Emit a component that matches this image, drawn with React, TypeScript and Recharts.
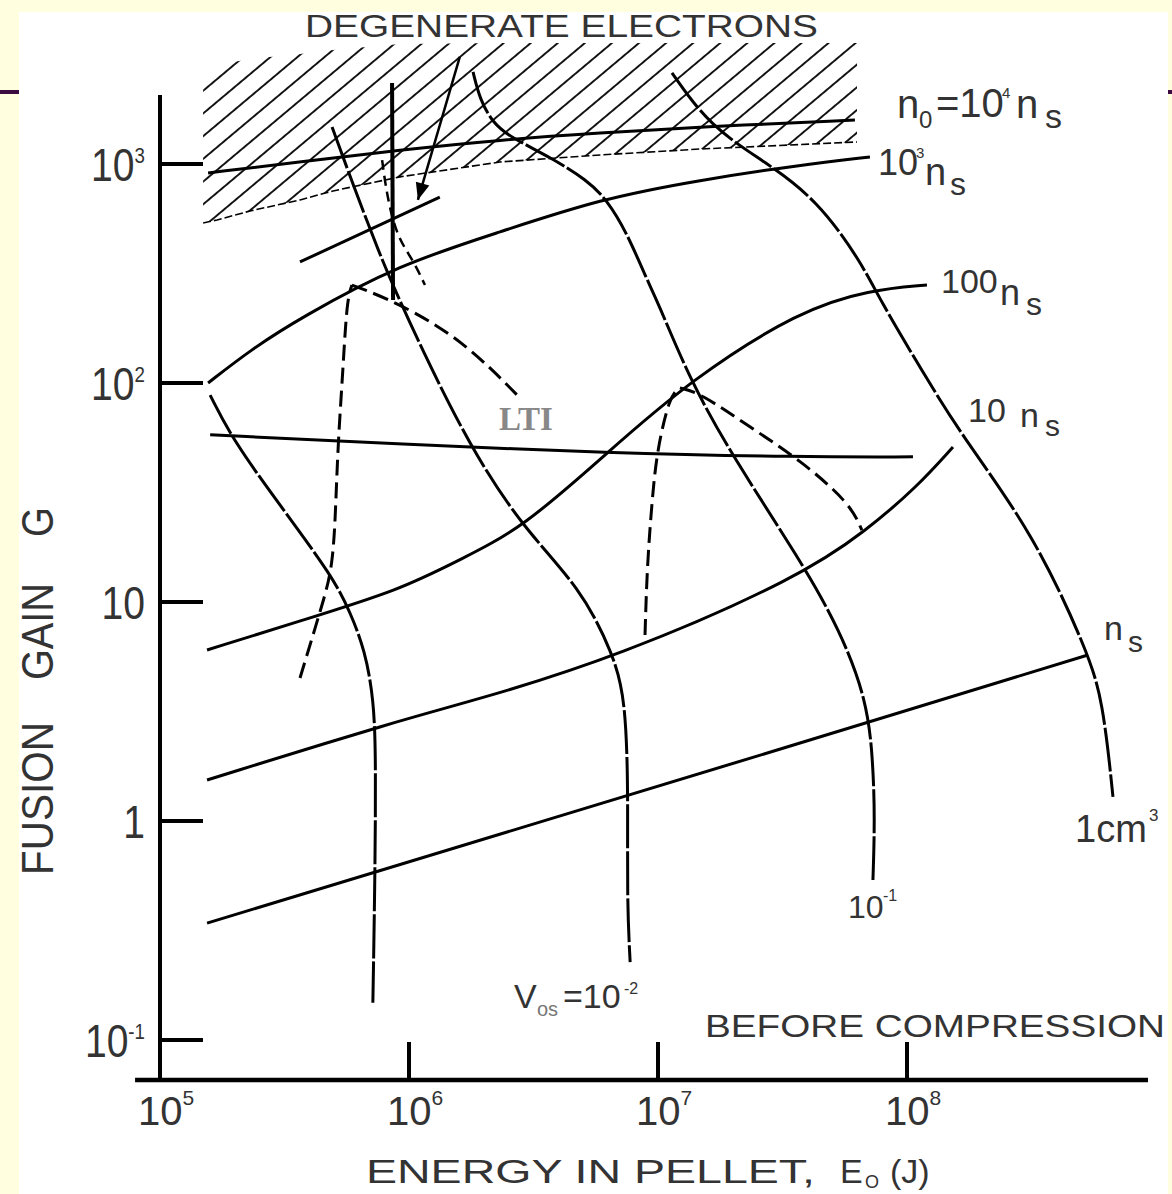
import React from 'react';
import { ComposedChart, Line, Area, XAxis, YAxis, ReferenceLine, ReferenceDot } from 'recharts';

// Energy in pellet E0 (J) vs fusion gain G
const xTicks = [1e5, 1e6, 1e7, 1e8];
const xTickExp = ['5', '6', '7', '8'];
const yTicks = [0.1, 1, 10, 100, 1000];
const yTickBase = ['10', '1', '10', '10', '10'];
const yTickExp = ['-1', '', '', '2', '3'];

const xDomain = [1e5, 9.29e8];
const yDomain = [0.0657, 3681];
const yAxisTop = 2065;
const xAxisStart = 7.94e4;

// density contours (n0 = 10^4 ns ... ns)
const dens1e4 = [[1.56e5, 910], [3.65e5, 1021], [9.2e5, 1159], [2.32e6, 1288], [5.85e6, 1386], [1.475e7, 1475], [6.18e7, 1588]];
const dens1e3 = [[1.56e5, 100], [2.3e5, 141], [3.65e5, 198], [9.2e5, 349], [2.32e6, 489], [5.85e6, 692], [1.475e7, 845], [3.72e7, 989], [7.1e7, 1076]];
const dens1e3Stub = [[3.65e5, 357], [1.33e6, 706]];
const dens100 = [[1.545e5, 6.04], [3.65e5, 8.19], [9.2e5, 11.35], [1.6e6, 15.6], [2.87e6, 21.8], [6.24e6, 47.9], [1.345e7, 103], [3.72e7, 215], [7.1e7, 266], [1.203e8, 280]];
const dens10 = [[1.545e5, 1.54], [9.2e5, 2.89], [1.875e6, 3.57], [6.84e6, 5.61], [3.72e7, 13.0], [6.9e7, 21.3], [1.096e8, 33.5], [1.53e8, 51]];
const dens1 = [[1.545e5, 0.342], [3.72e7, 2.27], [5.33e8, 5.73]];
const flatLine = [[1.59e5, 58], [9.2e5, 52.6], [6.24e6, 47.9], [3.72e7, 45.9], [1.057e8, 46]];

// volume contours (Vos)
const volSmall = [[1.59e5, 88], [1.96e5, 55], [3.03e5, 27.7], [4.95e5, 13.0], [5.8e5, 9.0], [6.65e5, 6.04], [7.23e5, 3.57], [7.36e5, 1.9], [7.3e5, 0.538], [7.16e5, 0.148]];
const vol1em2 = [[4.91e5, 1475], [6.07e5, 761], [7.65e5, 384], [8.79e5, 266], [1.107e6, 149], [1.758e6, 51], [2.87e6, 21.8], [4.86e6, 11.7], [6.59e6, 5.85], [7.43e6, 3.57], [7.59e6, 1.25], [7.51e6, 0.436], [7.73e6, 0.227]];
const vol1em1 = [[1.808e6, 2630], [1.928e6, 1960], [2.175e6, 1538], [2.545e6, 1328], [3.68e6, 1076], [5.19e6, 845], [6.24e6, 685], [7.51e6, 484], [9.04e6, 295], [9.91e6, 239], [1.345e7, 103], [2.0e7, 45.9], [3.72e7, 15.6], [5.38e7, 7.45], [6.9e7, 3.57], [7.3e7, 1.9], [7.43e7, 1.01], [7.3e7, 0.538]];
const vol1cm3 = [[1.138e7, 2605], [1.618e7, 1475], [2.74e7, 1011], [4.35e7, 685], [6.47e7, 365], [7.8e7, 239], [1.127e8, 118], [1.633e8, 59], [3.21e8, 20.7], [5.28e8, 6.04], [6.12e8, 3.57], [6.72e8, 1.29]];
const thickVertical = [[8.55e5, 2344], [8.63e5, 239]];

// LTI dashed curves
const lti1Left = [[3.65e5, 4.5], [4.48e5, 9.69], [4.95e5, 14.45], [5.09e5, 29.2], [5.19e5, 53.2], [5.43e5, 115], [5.63e5, 239], [5.9e5, 280]];
const lti1Right = [[5.9e5, 280], [8.95e5, 234], [1.648e6, 157], [2.79e6, 85.5]];
const lti2Left = [[8.87e6, 7.07], [9.04e6, 14.45], [9.47e6, 29.2], [9.91e6, 49.4], [1.117e7, 88], [1.225e7, 95]];
const lti2Right = [[1.225e7, 95], [1.475e7, 90], [2.34e7, 63], [3.72e7, 44.5], [5.9e7, 28.3], [6.59e7, 21.3]];
const lti3 = [[7.8e5, 1042], [8.17e5, 706], [8.95e5, 465], [1.037e6, 365], [1.159e6, 280]];

const arrowShaft = [[1.6e6, 3080], [1.086e6, 685]];

// degenerate-electron region
const hatchE = [1.49e5, 1.694e5, 2.3e5, 3.65e5, 4.95e5, 9.2e5, 2.32e6, 5.85e6, 1.475e7, 6.3e7];
const hatchTop = [2549, 2832, 3015, 3178, 3316, 3532, 3570, 3570, 3570, 3570];
const hatchBottom = [538, 555, 610, 685, 753, 873, 1021, 1099, 1170, 1260];

const sans = '"Liberation Sans", Arial, Helvetica, sans-serif';
const ink = '#333';

const toRows = (pts: number[][]) => pts.map(([x, y]) => ({ x, y }));
const hatchRows = hatchE.map((x, i) => ({ x, range: [hatchBottom[i], hatchTop[i]] }));
const hatchEdge = hatchE.map((x, i) => ({ x, y: hatchBottom[i] }));

const XTick = (props: any) => {
  const { x, y, index } = props;
  return (
    <g>
      {index > 0 && <line x1={x} y1={y} x2={x} y2={y - 38} stroke="#000" strokeWidth={4} />}
      <text x={x - 22} y={y + 45} fontSize={40} fill={ink} fontFamily={sans}>
        10<tspan fontSize={21} dy={-20}>{xTickExp[index]}</tspan>
      </text>
    </g>
  );
};

const YTick = (props: any) => {
  const { x, y, index } = props;
  return (
    <g>
      <line x1={x} y1={y} x2={x + 43} y2={y} stroke="#000" strokeWidth={4} />
      <text transform={`translate(${x - 15},${y + 17}) scale(0.85,1)`} textAnchor="end" fontSize={46} fill={ink} fontFamily={sans}>
        {yTickBase[index]}
        {yTickExp[index] && <tspan fontSize={22} dy={-18}>{yTickExp[index]}</tspan>}
      </text>
    </g>
  );
};

const ArrowHead = (props: any) => {
  const { cx, cy } = props;
  return <path d="M0,0 L-17,-7 L-17,7 Z" fill="#000" transform={`translate(${cx},${cy}) rotate(106)`} />;
};

const curve = (key: string, pts: number[][], opts: any = {}) => (
  <Line
    key={key}
    name={key}
    data={toRows(pts)}
    dataKey="y"
    type={opts.type || 'basis'}
    stroke="#000"
    strokeWidth={opts.w || 3}
    strokeDasharray={opts.dash}
    dot={false}
    activeDot={false}
    isAnimationActive={false}
  />
);

export default function App() {
  return (
    <div style={{ position: 'absolute', left: 0, top: 0, width: 1172, height: 1194, background: '#FFFFE0', overflow: 'hidden' }}>
      <div style={{ position: 'absolute', left: 0, top: 90, width: 1172, height: 4, background: '#3B0A40' }} />
      <div style={{ position: 'absolute', left: 19, top: 12, width: 1149, height: 1182, background: '#fff' }} />
      <div style={{ position: 'absolute', left: 0, top: 0 }}>
        <ComposedChart width={1172} height={1194} margin={{ top: 40, right: 24, bottom: 54, left: 100 }}>
          <defs>
            <pattern id="hatch" patternUnits="userSpaceOnUse" width="12" height="17.4" patternTransform="rotate(-40)">
              <line x1="0" y1="8.7" x2="12" y2="8.7" stroke="#000" strokeWidth="1.8" />
            </pattern>
          </defs>
          <XAxis
            dataKey="x"
            type="number"
            scale="log"
            domain={xDomain}
            allowDataOverflow
            ticks={xTicks}
            interval={0}
            tick={(p: any) => <XTick {...p} />}
            tickLine={false}
            axisLine={false}
            tickSize={0}
            tickMargin={0}
            height={60}
          />
          <YAxis
            type="number"
            scale="log"
            domain={yDomain}
            allowDataOverflow
            ticks={yTicks}
            interval={0}
            tick={(p: any) => <YTick {...p} />}
            tickLine={false}
            axisLine={false}
            tickSize={0}
            tickMargin={0}
            width={60}
          />
          <Area
            data={hatchRows}
            dataKey="range"
            type="linear"
            stroke="none"
            fill="url(#hatch)"
            fillOpacity={1}
            dot={false}
            activeDot={false}
            isAnimationActive={false}
          />
          <Line data={hatchEdge} dataKey="y" type="linear" stroke="#000" strokeWidth={1.6} strokeDasharray="8 3" dot={false} activeDot={false} isAnimationActive={false} />
          {curve('n1e4', dens1e4)}
          {curve('n1e3', dens1e3)}
          {curve('n1e3stub', dens1e3Stub, { type: 'linear' })}
          {curve('n100', dens100)}
          {curve('n10', dens10)}
          {curve('n1', dens1, { type: 'linear' })}
          {curve('flat', flatLine)}
          {curve('vSmall', volSmall, { dash: '44 3' })}
          {curve('v1em2', vol1em2, { dash: '44 3' })}
          {curve('v1em1', vol1em1, { dash: '44 3' })}
          {curve('v1cm3', vol1cm3, { dash: '44 3' })}
          {curve('thick', thickVertical, { type: 'linear', w: 4 })}
          {curve('lti1L', lti1Left, { dash: '16 7' })}
          {curve('lti1R', lti1Right, { dash: '16 7' })}
          {curve('lti2L', lti2Left, { dash: '16 7' })}
          {curve('lti2R', lti2Right, { dash: '16 7' })}
          {curve('lti3', lti3, { dash: '10 6', w: 2.5 })}
          {curve('arrow', arrowShaft, { type: 'linear', w: 2.5 })}
          <ReferenceDot x={arrowShaft[1][0]} y={arrowShaft[1][1]} r={0} ifOverflow="visible" shape={(p: any) => <ArrowHead {...p} />} />
          <ReferenceLine segment={[{ x: xDomain[0], y: yDomain[0] }, { x: xDomain[0], y: yAxisTop }]} stroke="#000" strokeWidth={4} ifOverflow="visible" />
          <ReferenceLine segment={[{ x: xAxisStart, y: yDomain[0] }, { x: xDomain[1], y: yDomain[0] }]} stroke="#000" strokeWidth={4.5} ifOverflow="visible" />
        </ComposedChart>
      </div>
      <svg width={1172} height={1194} style={{ position: 'absolute', left: 0, top: 0, pointerEvents: 'none' }} fontFamily={sans} fill={ink}>
        <text x={305} y={37} fontSize={31} textLength={513} lengthAdjust="spacingAndGlyphs">DEGENERATE ELECTRONS</text>

        <text fontSize={40}>
          <tspan x={897} y={118}>n</tspan>
          <tspan x={919} y={128} fontSize={24}>0</tspan>
          <tspan x={936} y={117}>=10</tspan>
          <tspan x={1002} y={98} fontSize={15}>4</tspan>
          <tspan x={1016} y={118}>n</tspan>
          <tspan x={1045} y={128} fontSize={34}>s</tspan>
        </text>

        <text fontSize={36}>
          <tspan x={878} y={175}>10</tspan>
          <tspan x={916} y={158} fontSize={15}>3</tspan>
          <tspan x={925} y={185} fontSize={38}>n</tspan>
          <tspan x={950} y={195} fontSize={32}>s</tspan>
        </text>

        <text fontSize={34}>
          <tspan x={941} y={293}>100</tspan>
          <tspan x={1000} y={305} fontSize={36}>n</tspan>
          <tspan x={1026} y={315} fontSize={32}>s</tspan>
        </text>

        <text fontSize={34}>
          <tspan x={968} y={422}>10</tspan>
          <tspan x={1020} y={427}>n</tspan>
          <tspan x={1045} y={436} fontSize={30}>s</tspan>
        </text>

        <text fontSize={34}>
          <tspan x={1104} y={640}>n</tspan>
          <tspan x={1128} y={652} fontSize={30}>s</tspan>
        </text>

        <text fontSize={38}>
          <tspan x={1075} y={842}>1cm</tspan>
          <tspan x={1149} y={821} fontSize={17}>3</tspan>
        </text>

        <text fontSize={32}>
          <tspan x={848} y={918}>10</tspan>
          <tspan x={883} y={901} fontSize={16}>-1</tspan>
        </text>

        <text fontSize={34}>
          <tspan x={514} y={1008}>V</tspan>
          <tspan x={537} y={1016} fontSize={20} fill="#777">os</tspan>
          <tspan x={563} y={1008}>=10</tspan>
          <tspan x={624} y={994} fontSize={16}>-2</tspan>
        </text>

        <text x={499} y={430} fontSize={33} fontFamily='"Liberation Serif", "Times New Roman", serif' fontWeight="bold" fill="#888">LTI</text>

        <text x={705} y={1037} fontSize={31} textLength={460} lengthAdjust="spacingAndGlyphs">BEFORE COMPRESSION</text>

        <text fontSize={34}>
          <tspan x={366} y={1183} textLength={449} lengthAdjust="spacingAndGlyphs">ENERGY IN PELLET,</tspan>
          <tspan x={840} y={1183}>E</tspan>
          <tspan x={865} y={1188} fontSize={18}>O</tspan>
          <tspan x={890} y={1183}>(J)</tspan>
        </text>

        <text transform="translate(53,875) rotate(-90)" fontSize={44} textLength={153} lengthAdjust="spacingAndGlyphs">FUSION</text>
        <text transform="translate(53,680) rotate(-90)" fontSize={44} textLength={97} lengthAdjust="spacingAndGlyphs">GAIN</text>
        <text transform="translate(53,537) rotate(-90)" fontSize={44} textLength={30} lengthAdjust="spacingAndGlyphs">G</text>
      </svg>
    </div>
  );
}
